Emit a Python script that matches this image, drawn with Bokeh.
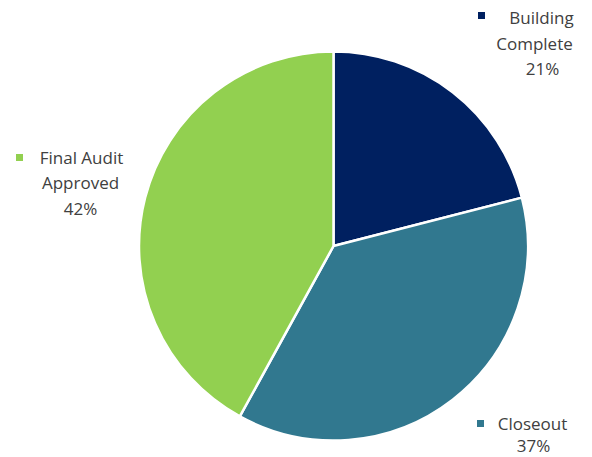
import math
from bokeh.plotting import figure
from bokeh.models import Range1d, ColumnDataSource
from bokeh.core.properties import value
from bokeh.embed import file_html
from bokeh.resources import INLINE

categories = ["Building Complete", "Closeout", "Final Audit Approved"]
percents = [21, 37, 42]
colors = ["#002060", "#31788F", "#92D050"]

W, H = 592, 457
p = figure(width=W, height=H, output_backend="svg", toolbar_location=None,
           x_range=Range1d(0, W), y_range=Range1d(0, H),
           min_border=0)
p.axis.visible = False
p.grid.visible = False
p.outline_line_color = None
p.background_fill_color = "white"

# pie geometry (page pixels; data y = H - page y)
cx, cy, r = 333, H - 245.5, 194.5
total = sum(percents)
starts, ends = [], []
a = math.pi / 2
for v in percents:
    starts.append(a)
    a -= 2 * math.pi * v / total
    ends.append(a)

src = ColumnDataSource(dict(start=starts, end=ends, color=colors, cat=categories))
p.wedge(x=cx, y=cy, radius=r, start_angle="start", end_angle="end",
        direction="clock", fill_color="color", line_color="white",
        line_width=2.5, source=src)

# labels
font = value("Open Sans")
txt_color = "#404040"
label_lines = [
    (["Building", "Complete", f"{percents[0]}%"], [541, 534, 542], [17, 43, 68], (481, 15)),
    (["Closeout", f"{percents[1]}%"], [532, 533], [423, 445], (480, 423)),
    (["Final Audit", "Approved", f"{percents[2]}%"], [81, 80, 80], [157, 182, 208], (19, 157)),
]
for (lines, xs, ys, (bx, by)), col in zip(label_lines, colors):
    p.text(x=xs, y=[H - y for y in ys], text=lines, text_font=font,
           text_font_size="17px", text_color=txt_color,
           text_align="center", text_baseline="middle")
    p.scatter(x=[bx], y=[H - by], marker="square", size=7,
              fill_color=col, line_color=None)

open("out.html", "w").write(file_html(p, INLINE))
